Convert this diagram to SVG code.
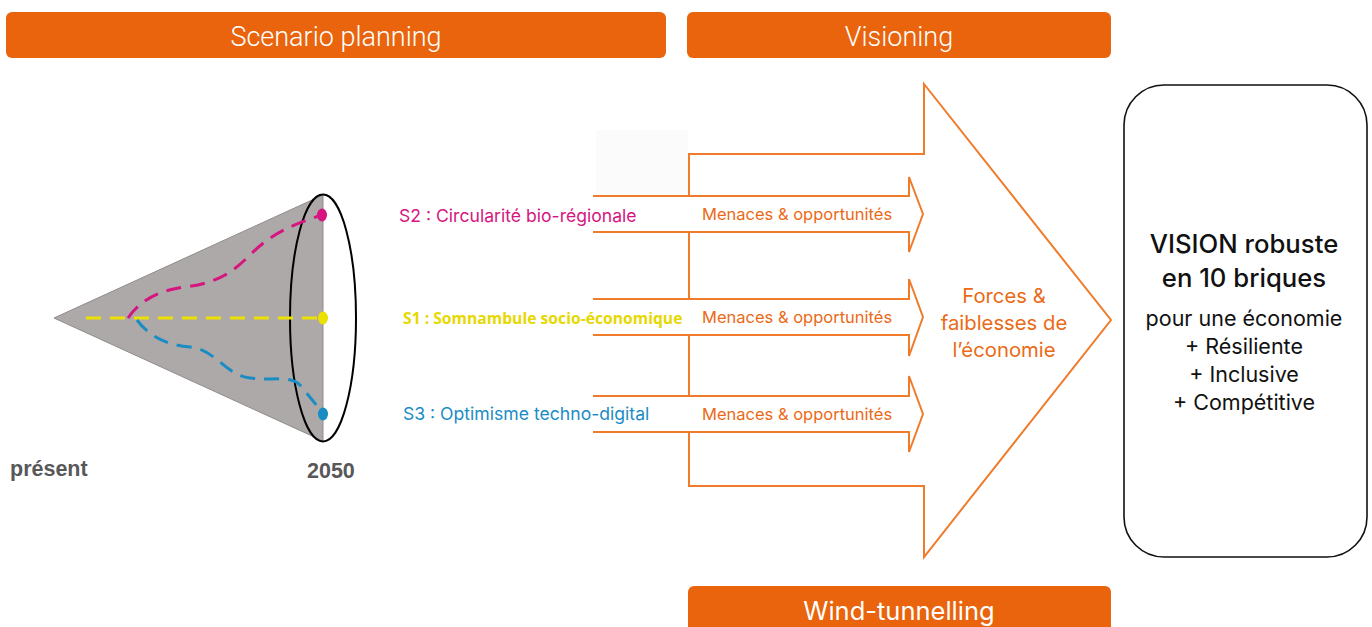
<svg xmlns="http://www.w3.org/2000/svg" width="1372" height="627" viewBox="0 0 1372 627">
<style>
.hdr{fill:#e9640c}
.hdrt{fill:#fff;font-family:Roboto,"Liberation Sans",sans-serif;font-weight:300;font-size:27px;text-anchor:middle}
.ol{fill:none;stroke:#ef7b2b;stroke-width:2}
.wf{fill:#fff;stroke:none}
.mo{fill:#ea6a16;font-family:Inter,"Noto Sans",sans-serif;font-size:16.5px}
.lbl{font-family:Inter,"Noto Sans",sans-serif;font-size:17.6px}
.ax{fill:#58585a;font-family:"Liberation Sans",Arial,sans-serif;font-weight:bold;font-size:21.5px}
.vt{fill:#111;font-family:Inter,"Noto Sans",sans-serif;text-anchor:middle}
</style>
<rect width="1372" height="627" fill="#fff"/>
<g id="hdr-scenario"><rect class="hdr" x="6" y="12" width="660" height="46" rx="6"/><text class="hdrt" x="336" y="46">Scenario planning</text></g>
<g id="hdr-visioning"><rect class="hdr" x="687" y="12" width="424" height="46" rx="6"/><text class="hdrt" x="899" y="46">Visioning</text></g>
<g id="hdr-wind"><rect class="hdr" x="688" y="586" width="423" height="50" rx="6"/><text x="899" y="620" fill="#fff" font-family="Inter,'Noto Sans',sans-serif" font-size="25.5" text-anchor="middle">Wind-tunnelling</text></g>

<g id="cone">
<polygon points="54,318 323,195 323,441" fill="#ada9a8" stroke="#8f8b8a" stroke-width="1"/>
<ellipse cx="323" cy="318" rx="33" ry="123.5" fill="none" stroke="#000" stroke-width="2"/>
<path d="M86,318 L320,318" stroke="#ece000" stroke-width="3" stroke-dasharray="15,9" fill="none"/>
<path d="M128,318 C140,300 160,290 185,287 C215,283 230,275 250,255 C270,235 290,225 322,215" stroke="#d6157f" stroke-width="3" stroke-dasharray="15,9" fill="none"/>
<path d="M137,320 C148,335 165,345 190,347 C215,349 225,375 250,378 C270,381 290,375 300,385 L322,412" stroke="#1a8cc4" stroke-width="3" stroke-dasharray="15,9" fill="none"/>
<ellipse cx="322" cy="215" rx="5" ry="6.5" fill="#d6157f"/>
<ellipse cx="323" cy="318" rx="5" ry="6.5" fill="#ece000"/>
<ellipse cx="323" cy="414" rx="5" ry="6.5" fill="#1a8cc4"/>
<text class="ax" x="10" y="476">présent</text>
<text class="ax" x="307" y="478">2050</text>
</g>

<g id="big-arrow">
<rect x="596" y="130" width="92" height="66" fill="#fbfbfb"/>
<polygon points="689,154 924,154 924,84 1111,320 924,557 924,486 689,486" fill="#fff" stroke="#ef7b2b" stroke-width="2"/>
<text fill="#ea6a16" font-family="Inter,'Noto Sans',sans-serif" font-size="20.3" text-anchor="middle"><tspan x="1004" y="303">Forces &amp;</tspan><tspan x="1004" y="330">faiblesses de</tspan><tspan x="1004" y="357">l’économie</tspan></text>
</g>

<g id="connectors">
<g id="arrow-s2">
<polygon class="wf" points="593,196 909,196 909,177 923,214 909,252 909,232 593,232"/>
<polyline class="ol" points="593,196 909,196 909,177 923,214 909,252 909,232 593,232"/>
<text class="mo" x="702" y="220">Menaces &amp; opportunités</text>
</g>
<g id="arrow-s1">
<polygon class="wf" points="593,299 909,299 909,279 923,317 909,356 909,335 593,335"/>
<polyline class="ol" points="593,299 909,299 909,279 923,317 909,356 909,335 593,335"/>
<text class="mo" x="702" y="323">Menaces &amp; opportunités</text>
</g>
<g id="arrow-s3">
<polygon class="wf" points="593,396 909,396 909,376 923,414 909,452 909,432 593,432"/>
<polyline class="ol" points="593,396 909,396 909,376 923,414 909,452 909,432 593,432"/>
<text class="mo" x="702" y="420">Menaces &amp; opportunités</text>
</g>
</g>

<g id="s2"><text class="lbl" x="399" y="222" fill="#d6157f">S2 : Circularité bio-régionale</text></g>
<g id="s1"><text x="403" y="324" fill="#e6d800" font-family="'Open Sans','Noto Sans',sans-serif" font-weight="bold" font-size="15.7">S1 : Somnambule socio-économique</text></g>
<g id="s3"><text class="lbl" x="403" y="420" fill="#1a8cc4">S3 : Optimisme techno-digital</text></g>

<g id="vision">
<rect x="1124" y="85" width="243" height="472" rx="40" fill="#fff" stroke="#111" stroke-width="1.6"/>
<text class="vt" font-size="25.7" font-weight="500"><tspan x="1244" y="253">VISION robuste</tspan><tspan x="1244" y="287">en 10 briques</tspan></text>
<text class="vt" font-size="21.5"><tspan x="1244" y="326">pour une économie</tspan><tspan x="1244" y="354">+ Résiliente</tspan><tspan x="1244" y="382">+ Inclusive</tspan><tspan x="1244" y="410">+ Compétitive</tspan></text>
</g>
</svg>
